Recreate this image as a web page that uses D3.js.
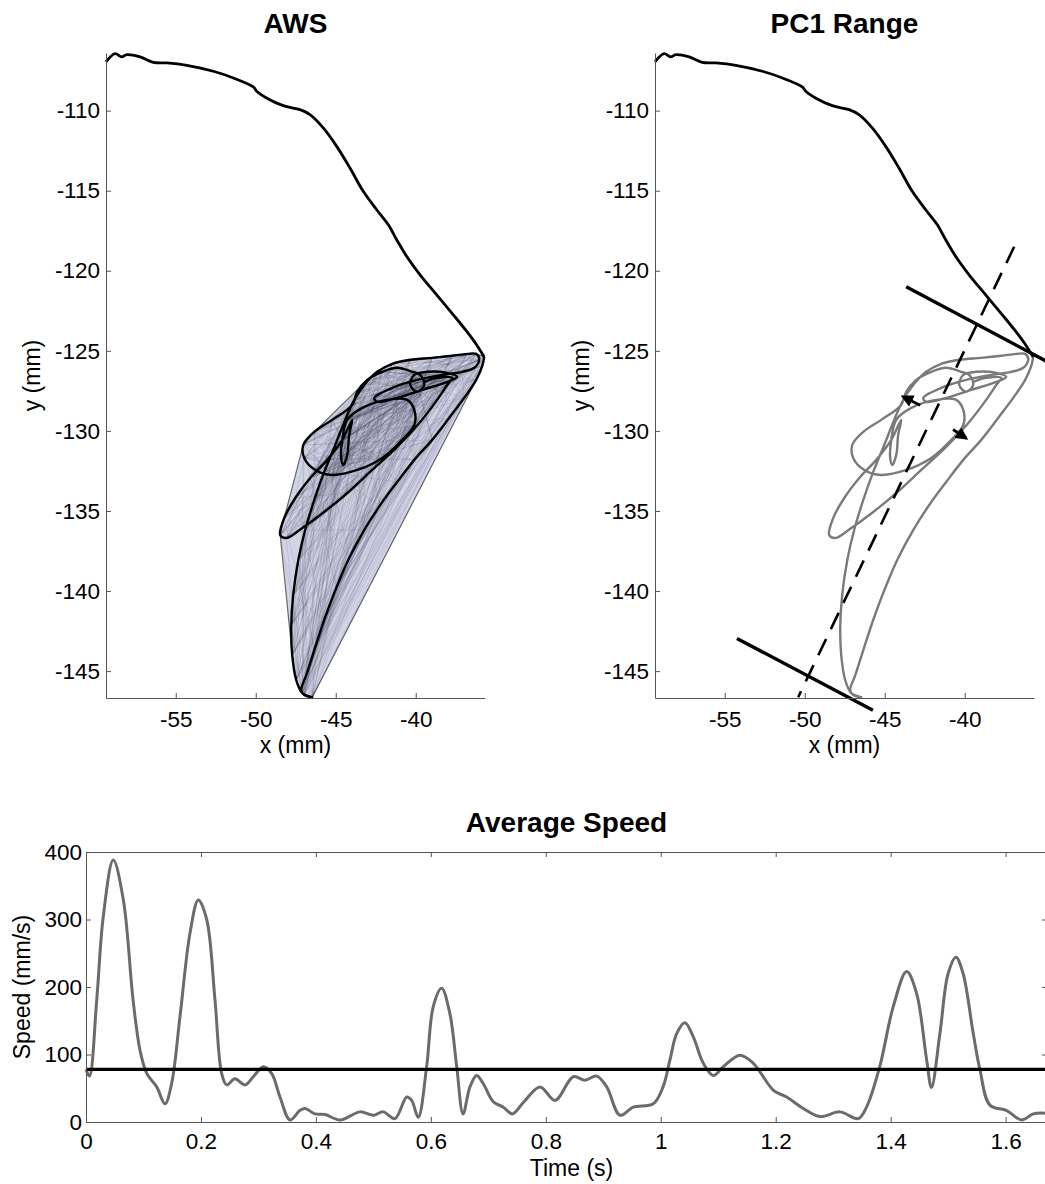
<!DOCTYPE html>
<html>
<head>
<meta charset="utf-8">
<script src="https://cdn.jsdelivr.net/npm/d3@7"></script>
<style>
  body { margin: 0; background: #fff; }
  svg { display: block; font-family: "Liberation Sans", Arial, sans-serif; }
</style>
</head>
<body>
<div id="wrapper"></div>
<script>
// approach trajectory (x, y in mm)
const approachPath = [
  [-59.36,-106.95],[-58.79,-106.44],[-58.38,-106.64],[-58.06,-106.5],[-57.23,-106.64],
  [-56.4,-106.98],[-55.56,-107.02],[-54.31,-107.17],[-52.65,-107.54],[-51.4,-107.96],
  [-50.15,-108.52],[-49.94,-108.79],[-49.33,-109.21],[-48.28,-109.69],[-47.23,-109.94],
  [-46.61,-110.25],[-45.78,-111.08],[-44.94,-112.23],[-44.11,-113.58],[-43.28,-115.04],
  [-42.44,-116.19],[-41.71,-117.13],[-41.19,-118.06],[-40.56,-119.11],[-39.73,-120.25],
  [-38.69,-121.5],[-37.65,-122.75],[-36.81,-123.79],[-36.19,-124.63],[-35.72,-125.38]
];

// looping part of the trajectory (x, y in mm)
const loopPath = [
  [-35.72,-125.38],[-35.84,-125.94],[-36.22,-126.81],[-36.97,-127.94],[-37.91,-129.19],
  [-38.97,-130.56],[-40.09,-131.81],[-41.16,-133.19],[-42.22,-134.63],[-43.22,-136.19],
  [-44.16,-137.94],[-44.97,-139.81],[-45.72,-141.81],[-46.34,-143.69],[-46.84,-145.25],
  [-47.16,-146.19],[-46.97,-146.5],[-46.47,-146.63],
  [-47.09,-146.38],[-47.47,-145.56],[-47.72,-144.0],[-47.78,-142.13],[-47.66,-140.25],
  [-47.34,-138.06],[-46.91,-136.19],[-46.34,-134.31],[-45.72,-132.56],[-45.03,-130.88],
  [-44.41,-129.31],[-43.84,-128.06],[-43.22,-127.13],[-42.41,-126.31],[-41.47,-125.81],
  [-40.34,-125.56],[-38.97,-125.44],[-37.72,-125.31],[-36.78,-125.19],[-36.22,-125.19],
  [-36.03,-125.56],[-36.34,-126.06],[-37.09,-126.31],
  [-38.34,-126.5],[-39.91,-126.81],[-41.47,-127.31],[-42.59,-127.94],[-42.41,-128.19],
  [-41.16,-127.94],[-39.59,-127.44],[-38.03,-126.94],[-37.41,-126.63],[-38.03,-126.38],
  [-39.28,-126.31],
  [-40.09,-126.5],[-40.34,-127.13],[-39.91,-127.56],[-39.47,-127.13],[-39.72,-126.5],
  [-40.22,-126.31],
  [-41.16,-126.06],[-42.09,-126.31],[-43.03,-126.81],[-43.66,-127.56],[-43.97,-128.38],
  [-45.22,-129.31],[-46.34,-130.06],[-47.03,-130.88],[-46.97,-131.69],[-46.28,-132.44],
  [-45.22,-132.75],[-43.66,-132.44],[-42.09,-131.69],[-40.84,-130.56],[-40.09,-129.63],
  [-40.09,-128.69],[-40.53,-128.06],
  [-41.78,-128.06],[-43.34,-128.56],[-44.28,-129.31],[-44.59,-130.56],[-44.66,-131.69],
  [-44.53,-132.13],[-44.28,-131.5],[-44.16,-130.25],[-43.97,-129.31],
  [-44.59,-130.56],[-45.53,-131.81],[-46.59,-132.94],[-47.53,-134.19],[-48.22,-135.44],
  [-48.47,-136.5],[-48.09,-136.69],[-47.09,-136.06],[-45.72,-135.06],[-44.28,-133.88],
  [-42.72,-132.44],[-41.16,-131.0],[-39.72,-129.44],[-38.66,-128.06],[-38.03,-127.13],
  [-37.72,-126.69],[-38.66,-126.69],[-39.47,-126.94]
];

// PC1 axis and range limits (mm)
const pc1Axis = [[-36.91,-118.5],[-50.41,-146.63]];
const rangeTop = [[-43.66,-121.0],[-34.59,-125.81]];
const rangeBottom = [[-54.24,-142.96],[-45.74,-147.44]];
const pc2Arrows = [
  [[-42.78,-128.4],[-43.86,-127.86]],
  [[-40.73,-129.91],[-39.91,-130.46]]
];

const xTicks = [-55, -50, -45, -40];
const yTicks = [-110, -115, -120, -125, -130, -135, -140, -145];

// average speed over time
const speedTime = [
  0, 0.006, 0.0186, 0.03, 0.0475, 0.065, 0.082, 0.094, 0.1056, 0.123,
  0.1374, 0.149, 0.1635, 0.181, 0.1954, 0.21, 0.2244, 0.236, 0.2448, 0.259,
  0.2766, 0.291, 0.3085, 0.323, 0.3375, 0.355, 0.372, 0.381, 0.3985, 0.416,
  0.442, 0.4767, 0.4998, 0.517, 0.5376, 0.558, 0.5666, 0.578, 0.5927, 0.6042,
  0.6188, 0.633, 0.645, 0.656, 0.668, 0.6797, 0.691, 0.7086, 0.726, 0.742,
  0.762, 0.79, 0.816, 0.8478, 0.868, 0.8885, 0.906, 0.929, 0.952, 0.987,
  1.004, 1.016, 1.0277, 1.042, 1.0566, 1.074, 1.0914, 1.1088, 1.1378, 1.161,
  1.196, 1.219, 1.248, 1.277, 1.3117, 1.3436, 1.358, 1.381, 1.4045, 1.4278,
  1.445, 1.4626, 1.471, 1.4857, 1.5, 1.5136, 1.526, 1.5437, 1.5554, 1.5727,
  1.6018, 1.6279, 1.648, 1.67
];
const speedValue = [
  78, 68, 180, 304, 388, 329, 180, 106, 72, 52,
  27, 57, 156, 280, 329, 300, 181, 72, 55, 64,
  55, 67, 82, 72, 37, 3, 17, 20, 12, 11,
  3, 15, 10, 15, 5, 37, 32, 7, 82, 171,
  198, 161, 82, 12, 52, 69, 57, 30, 22, 12,
  30, 52, 32, 67, 62, 68, 52, 10, 22, 27,
  52, 92, 131, 147, 126, 87, 69, 82, 99, 87,
  47, 37, 20, 8, 15, 5, 22, 82, 171, 223,
  191, 92, 51, 131, 220, 244, 220, 131, 77, 25,
  17, 3, 12, 13
];
const speedMean = 78;
const timeTicks = [0, 0.2, 0.4, 0.6, 0.8, 1, 1.2, 1.4, 1.6];
const speedTicks = [0, 100, 200, 300, 400];

const width = 1045;
const height = 1184;
const axisColor = "#555";
const tickFont = "22.5px";
const labelFont = "23px";
const titleFont = "28px";

const svg = d3.select("#wrapper")
  .append("svg")
  .attr("width", width)
  .attr("height", height);

const panelW = 379;
const panelH = 645;

const xScale = d3.scaleLinear().domain([-59.36, -35.67]).range([0, panelW]);
const yScale = d3.scaleLinear().domain([-146.68, -106.4]).range([panelH, 0]);

const smooth = d3.line()
  .x(d => xScale(d[0]))
  .y(d => yScale(d[1]))
  .curve(d3.curveCatmullRom.alpha(0.5));

const straight = d3.line()
  .x(d => xScale(d[0]))
  .y(d => yScale(d[1]));

function translate(x, y) {
  return `translate(${x},${y})`;
}

function styleAxis(g) {
  g.selectAll(".domain").attr("stroke", axisColor).attr("stroke-width", 1);
  g.selectAll(".tick line").attr("stroke", axisColor);
  g.selectAll(".tick text").attr("fill", "#000").style("font-size", tickFont);
}

function drawTrajectoryAxes(bounds, title) {
  bounds.append("g")
    .call(d3.axisLeft(yScale).tickValues(yTicks).tickFormat(d => String(d))
      .tickSizeInner(-5).tickSizeOuter(0).tickPadding(6))
    .call(styleAxis);

  bounds.append("g")
    .attr("transform", translate(0, panelH))
    .call(d3.axisBottom(xScale).tickValues(xTicks).tickFormat(d => String(d))
      .tickSizeInner(-5).tickSizeOuter(0).tickPadding(13))
    .call(styleAxis);

  bounds.append("text")
    .attr("x", panelW / 2)
    .attr("y", -20)
    .attr("text-anchor", "middle")
    .style("font-size", titleFont)
    .style("font-weight", "bold")
    .text(title);

  bounds.append("text")
    .attr("x", panelW / 2)
    .attr("y", panelH + 55)
    .attr("text-anchor", "middle")
    .style("font-size", labelFont)
    .text("x (mm)");

  bounds.append("text")
    .attr("transform", `translate(-66,${panelH / 2}) rotate(-90)`)
    .attr("text-anchor", "middle")
    .style("font-size", labelFont)
    .text("y (mm)");
}

// ---- AWS panel ----
const aws = svg.append("g").attr("transform", translate(106, 53));

const hullPoints = d3.polygonHull(loopPath.map(d => [xScale(d[0]), yScale(d[1])]));
aws.append("path")
  .attr("d", "M" + hullPoints.join("L") + "Z")
  .attr("fill", "#d2d3e5")
  .attr("stroke", "#333")
  .attr("stroke-opacity", 0.7)
  .attr("stroke-width", 1.2);

// swept segments between trajectory samples
const sweepOffsets = [3, 6, 10, 15, 21, 28, 37, 47, 60, 75];
const sweeps = [];
sweepOffsets.forEach(k => {
  for (let i = 0; i + k < loopPath.length; i++) sweeps.push([loopPath[i], loopPath[i + k]]);
});
aws.append("g")
  .selectAll("path")
  .data(sweeps)
  .join("path")
  .attr("d", straight)
  .attr("stroke", "#2a2a40")
  .attr("stroke-opacity", 0.13)
  .attr("stroke-width", 0.8)
  .attr("fill", "none");

aws.append("path")
  .attr("d", smooth(loopPath))
  .attr("fill", "none")
  .attr("stroke", "#000")
  .attr("stroke-width", 2.4);

aws.append("path")
  .attr("d", smooth(approachPath))
  .attr("fill", "none")
  .attr("stroke", "#000")
  .attr("stroke-width", 2.8);

drawTrajectoryAxes(aws, "AWS");

// ---- PC1 Range panel ----
const pc = svg.append("g").attr("transform", translate(655, 53));

pc.append("path")
  .attr("d", smooth(loopPath))
  .attr("fill", "none")
  .attr("stroke", "#7a7a7a")
  .attr("stroke-width", 2.4);

pc.append("path")
  .attr("d", smooth(approachPath))
  .attr("fill", "none")
  .attr("stroke", "#000")
  .attr("stroke-width", 2.8);

pc.append("path")
  .attr("d", straight(pc1Axis))
  .attr("stroke", "#000")
  .attr("stroke-width", 2.6)
  .attr("stroke-dasharray", "18,11");

[rangeTop, rangeBottom].forEach(seg => {
  pc.append("path")
    .attr("d", straight(seg))
    .attr("stroke", "#000")
    .attr("stroke-width", 3.4);
});

svg.append("defs").append("marker")
  .attr("id", "head")
  .attr("viewBox", "0 0 10 10")
  .attr("refX", 8).attr("refY", 5)
  .attr("markerWidth", 4.5).attr("markerHeight", 4.5)
  .attr("orient", "auto")
  .append("path")
  .attr("d", "M0,0L10,5L0,10Z")
  .attr("fill", "#000");

pc2Arrows.forEach(seg => {
  pc.append("path")
    .attr("d", straight(seg))
    .attr("stroke", "#000")
    .attr("stroke-width", 2.8)
    .attr("marker-end", "url(#head)");
});

drawTrajectoryAxes(pc, "PC1 Range");

// ---- Average speed panel ----
const sp = { left: 86, top: 852, w: 961, h: 270 };
const tScale = d3.scaleLinear().domain([0, 1.672]).range([0, sp.w]);
const vScale = d3.scaleLinear().domain([0, 400]).range([sp.h, 0]);

const speedG = svg.append("g").attr("transform", translate(sp.left, sp.top));

const speedLine = d3.line()
  .x((d, i) => tScale(speedTime[i]))
  .y(d => vScale(d))
  .curve(d3.curveCatmullRom.alpha(0.5));

speedG.append("path")
  .attr("d", speedLine(speedValue))
  .attr("fill", "none")
  .attr("stroke", "#6b6b6b")
  .attr("stroke-width", 3);

speedG.append("line")
  .attr("x1", 0)
  .attr("x2", sp.w)
  .attr("y1", vScale(speedMean))
  .attr("y2", vScale(speedMean))
  .attr("stroke", "#000")
  .attr("stroke-width", 3.4);

speedG.append("g")
  .call(d3.axisLeft(vScale).tickValues(speedTicks).tickSizeInner(-5).tickSizeOuter(0).tickPadding(4))
  .call(styleAxis);
speedG.append("g")
  .attr("transform", translate(0, sp.h))
  .call(d3.axisBottom(tScale).tickValues(timeTicks).tickFormat(d => String(d))
    .tickSizeInner(-5).tickSizeOuter(0).tickPadding(11))
  .call(styleAxis);
speedG.append("g")
  .call(d3.axisTop(tScale).tickValues(timeTicks).tickFormat("").tickSizeInner(-5).tickSizeOuter(0))
  .call(styleAxis);
speedG.append("g")
  .attr("transform", translate(sp.w, 0))
  .call(d3.axisRight(vScale).tickValues(speedTicks).tickFormat("").tickSizeInner(-5).tickSizeOuter(0))
  .call(styleAxis);

speedG.append("text")
  .attr("x", sp.w / 2)
  .attr("y", -20)
  .attr("text-anchor", "middle")
  .style("font-size", titleFont)
  .style("font-weight", "bold")
  .text("Average Speed");

speedG.append("text")
  .attr("x", sp.w / 2 + 5)
  .attr("y", sp.h + 54)
  .attr("text-anchor", "middle")
  .style("font-size", labelFont)
  .text("Time (s)");

speedG.append("text")
  .attr("transform", `translate(-56,${sp.h / 2}) rotate(-90)`)
  .attr("text-anchor", "middle")
  .style("font-size", labelFont)
  .text("Speed (mm/s)");
</script>
</body>
</html>
